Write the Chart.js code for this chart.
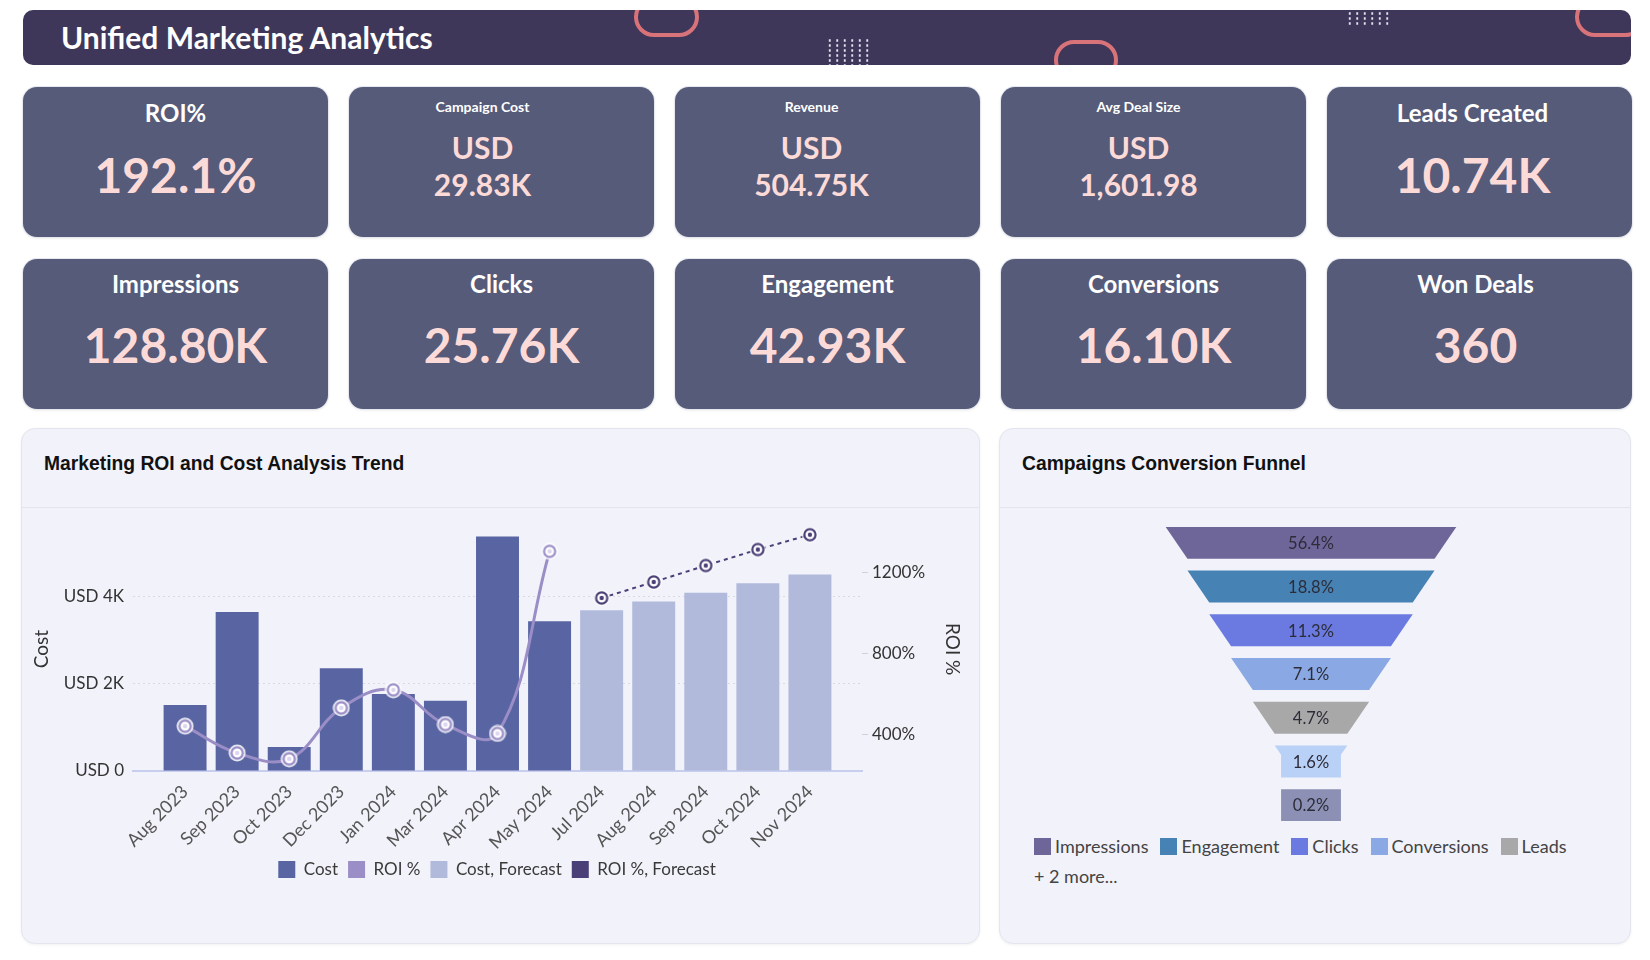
<!DOCTYPE html>
<html>
<head>
<meta charset="utf-8">
<script src="https://cdn.jsdelivr.net/npm/chart.js@4.4.1/dist/chart.umd.min.js"></script>
<style>
  body { margin: 0; width: 1650px; height: 960px; background: #fff; font-family: Lato, sans-serif; position: relative; overflow: hidden; }
  .header { position: absolute; left: 23px; top: 10px; width: 1608px; height: 55px; background: #3e3759; border-radius: 10px; overflow: hidden; }
  .header h1 { position: absolute; left: 38px; top: 0; margin: 0; line-height: 55px; font-size: 30px; font-weight: 700; color: #fff; }
  .pill { position: absolute; border: 4px solid #d8737a; border-radius: 20px; box-sizing: border-box; }
  .dots { position: absolute; background-image: radial-gradient(circle, #e6e4f0 1px, transparent 1.4px); background-size: 7.5px 5px; }
  .card { position: absolute; width: 305px; height: 150px; background: #565b79; border-radius: 14px; box-shadow: 0 0 0 1px #e6e7ef, 0 1px 3px rgba(0,0,0,0.12); color: #fff; text-align: center; }
  .card div { position: absolute; left: 0; right: 0; white-space: nowrap; }
  .t-big { font-size: 24px; font-weight: 700; line-height: 30px; }
  .t-small { font-size: 14px; font-weight: 700; line-height: 20px; }
  .v-big { font-size: 48px; font-weight: 700; line-height: 56px; color: #fcdad8; }
  .v-mid { font-size: 30px; font-weight: 700; line-height: 36px; color: #fcdad8; }
  .panel { position: absolute; top: 428px; height: 516px; background: #f1f2fa; border: 1px solid #e4e6ef; border-radius: 14px; box-sizing: border-box; box-shadow: 0 1px 3px rgba(0,0,0,0.06); }
  .panel h2 { position: absolute; margin: 0; top: 24px; font-family: "Liberation Sans", Arial, sans-serif; font-size: 19.3px; font-weight: 700; color: #111; line-height: 22px; }
  .panel .sep { position: absolute; left: 0; right: 0; top: 78px; height: 1px; background: #e2e4ee; }
  canvas { position: absolute; }
  #funnelLegend { position: absolute; left: 1034px; top: 835px; font-size: 18px; color: #444; }
  #funnelLegend .row { display: flex; align-items: center; height: 22px; }
  #funnelLegend .item { display: flex; align-items: center; margin-right: 12px; }
  #funnelLegend .box { width: 17px; height: 17px; margin-right: 4px; }
  #funnelLegend .more { margin-top: 8px; }
</style>
</head>
<body>
<div class="header">
  <h1>Unified Marketing Analytics</h1>
  <div class="pill" style="left:611px;top:-13px;width:65px;height:40px"></div>
  <div class="pill" style="left:1031px;top:30px;width:64px;height:40px"></div>
  <div class="pill" style="left:1552px;top:-13px;width:70px;height:40px"></div>
  <div class="dots" style="left:803px;top:28px;width:46px;height:30px"></div>
  <div class="dots" style="left:1323px;top:1px;width:45px;height:16px"></div>
</div>

<div class="card" style="left:23px;top:87px"><div class="t-big" style="top:11px">ROI%</div><div class="v-big" style="top:60px">192.1%</div></div>
<div class="card" style="left:349px;top:87px"><div class="t-small" style="top:10px;right:38px">Campaign Cost</div><div class="v-mid" style="top:42px;right:38px">USD</div><div class="v-mid" style="top:79px;right:38px">29.83K</div></div>
<div class="card" style="left:675px;top:87px"><div class="t-small" style="top:10px;right:32px">Revenue</div><div class="v-mid" style="top:42px;right:32px">USD</div><div class="v-mid" style="top:79px;right:32px">504.75K</div></div>
<div class="card" style="left:1001px;top:87px"><div class="t-small" style="top:10px;right:30px">Avg Deal Size</div><div class="v-mid" style="top:42px;right:30px">USD</div><div class="v-mid" style="top:79px;right:30px">1,601.98</div></div>
<div class="card" style="left:1327px;top:87px"><div class="t-big" style="top:11px;right:14px">Leads Created</div><div class="v-big" style="top:60px;right:14px">10.74K</div></div>

<div class="card" style="left:23px;top:259px"><div class="t-big" style="top:10px">Impressions</div><div class="v-big" style="top:58px">128.80K</div></div>
<div class="card" style="left:349px;top:259px"><div class="t-big" style="top:10px">Clicks</div><div class="v-big" style="top:58px">25.76K</div></div>
<div class="card" style="left:675px;top:259px"><div class="t-big" style="top:10px">Engagement</div><div class="v-big" style="top:58px">42.93K</div></div>
<div class="card" style="left:1001px;top:259px"><div class="t-big" style="top:10px">Conversions</div><div class="v-big" style="top:58px">16.10K</div></div>
<div class="card" style="left:1327px;top:259px"><div class="t-big" style="top:10px;right:8px">Won Deals</div><div class="v-big" style="top:58px;right:8px">360</div></div>

<div class="panel" style="left:21px;width:959px"><h2 style="left:22px">Marketing ROI and Cost Analysis Trend</h2><div class="sep"></div></div>
<div class="panel" style="left:999px;width:632px"><h2 style="left:22px">Campaigns Conversion Funnel</h2><div class="sep"></div></div>

<canvas id="trend" width="959" height="436" style="left:21px;top:508px"></canvas>
<canvas id="funnel" width="622" height="306" style="left:1000px;top:521px"></canvas>
<div id="funnelLegend"></div>

<script>
// trend data
const months = ['Aug 2023', 'Sep 2023', 'Oct 2023', 'Dec 2023', 'Jan 2024', 'Mar 2024', 'Apr 2024', 'May 2024',
                'Jul 2024', 'Aug 2024', 'Sep 2024', 'Oct 2024', 'Nov 2024'];
const cost = [1510, 3640, 550, 2350, 1760, 1610, 5370, 3430, null, null, null, null, null];
const costForecast = [null, null, null, null, null, null, null, null, 3680, 3880, 4080, 4300, 4500];
const roi = [441, 309, 280, 531, 620, 449, 405, 1303, null, null, null, null, null];
const roiForecast = [null, null, null, null, null, null, null, null, 1073, 1152, 1233, 1312, 1385];
const costTicks = [0, 2000, 4000];
const roiTicks = [400, 800, 1200];

// funnel data
const stages = ['Impressions', 'Engagement', 'Clicks', 'Conversions', 'Leads', 'Deals', 'Won Deals'];
const stageShare = [56.4, 18.8, 11.3, 7.1, 4.7, 1.6, 0.2];

const legendColors = ['#5965a3', '#9b8ec7', '#b1badb', '#4b3f77'];
const stageColors = ['#6e6699', '#4682b4', '#6b7ae0', '#8aa8e3', '#a8a8a8', '#b9d0f7', '#8d90b5'];

Chart.defaults.font.family = 'Lato, sans-serif';

function marker(ring, dot, halo) {
  const c = document.createElement('canvas');
  c.width = c.height = 18;
  const g = c.getContext('2d');
  g.beginPath(); g.arc(9, 9, 8.5, 0, Math.PI * 2); g.fillStyle = halo; g.fill();
  g.beginPath(); g.arc(9, 9, 5.6, 0, Math.PI * 2); g.fillStyle = '#fff'; g.fill();
  g.lineWidth = 2.2; g.strokeStyle = ring; g.stroke();
  g.beginPath(); g.arc(9, 9, 2.2, 0, Math.PI * 2); g.fillStyle = dot; g.fill();
  return c;
}

// x is a linear index axis so the months sit one slot in from each end
const asPoints = arr => arr.map((v, i) => ({ x: i, y: v }));

new Chart(document.getElementById('trend'), {
  data: {
    datasets: [
      { type: 'bar', label: 'Cost', data: asPoints(cost), backgroundColor: '#5965a3', yAxisID: 'y', order: 2,
        grouped: false, barPercentage: 0.825, categoryPercentage: 1 },
      { type: 'line', label: 'ROI %', data: asPoints(roi), yAxisID: 'y1', order: 0, borderColor: '#9b8ec7',
        backgroundColor: '#9b8ec7', borderWidth: 3, tension: 0.4,
        pointStyle: marker('#9b8ec7', '#ddd6f0', 'rgba(255,255,255,0.85)') },
      { type: 'bar', label: 'Cost, Forecast', data: asPoints(costForecast), backgroundColor: '#b1badb', yAxisID: 'y', order: 2,
        grouped: false, barPercentage: 0.825, categoryPercentage: 1 },
      { type: 'line', label: 'ROI %, Forecast', data: asPoints(roiForecast), yAxisID: 'y1', order: 0, borderColor: '#4b3f77',
        backgroundColor: '#4b3f77', borderWidth: 2, borderDash: [4, 4],
        pointStyle: marker('#4b3f77', '#4b3f77', 'rgba(255,255,255,0.6)') }
    ]
  },
  options: {
    responsive: false,
    animation: false,
    layout: { padding: { left: 5, right: 12, top: 12, bottom: 56 } },
    plugins: {
      tooltip: { enabled: false },
      legend: {
        position: 'bottom',
        labels: {
          boxWidth: 17, boxHeight: 17, padding: 10, color: '#3a3a3a', font: { size: 17 },
          sort: (a, b) => a.datasetIndex - b.datasetIndex,
          generateLabels(chart) {
            const items = Chart.defaults.plugins.legend.labels.generateLabels(chart);
            items.forEach(it => {
              it.fillStyle = legendColors[it.datasetIndex];
              it.strokeStyle = legendColors[it.datasetIndex];
              it.lineWidth = 0;
              it.lineDash = [];
            });
            return items;
          }
        }
      }
    },
    scales: {
      x: {
        type: 'linear', min: -1, max: 13, offset: false,
        afterBuildTicks(s) { s.ticks = months.map((m, i) => ({ value: i })); },
        grid: { display: false },
        border: { color: '#c8cfee', width: 2 },
        ticks: { autoSkip: false, maxRotation: 45, minRotation: 45, color: '#555', font: { size: 18 }, padding: 2,
          callback: v => months[v] },
        afterFit(s) { s.height = 80; }
      },
      y: {
        position: 'left', min: 0, max: 5580,
        afterBuildTicks(s) { s.ticks = costTicks.map(v => ({ value: v })); },
        ticks: { color: '#333', font: { size: 17 }, padding: 9,
          callback: v => v === 0 ? 'USD 0' : 'USD ' + v / 1000 + 'K' },
        grid: { color: '#d9d9e0', drawTicks: false },
        border: { display: false, dash: [2, 3] },
        title: { display: true, text: 'Cost', color: '#333', font: { size: 19 } },
        afterFit(s) { s.width = 107; }
      },
      y1: {
        position: 'right', min: 220, max: 1422,
        afterBuildTicks(s) { s.ticks = roiTicks.map(v => ({ value: v })); },
        ticks: { color: '#333', font: { size: 17 }, padding: 4, callback: v => v + '%' },
        grid: { drawOnChartArea: false, color: '#d0d0d8', tickLength: 6 },
        border: { display: false },
        title: { display: true, text: 'ROI %', color: '#333', font: { size: 19 } },
        afterFit(s) { s.width = 106; }
      }
    }
  }
});

// funnel shape: widths step down by rank, clamped at a neck width
const FUNNEL_TOP = 100, FUNNEL_STEP = 15, FUNNEL_NECK = 20.6;
const funnelWidth = i => FUNNEL_TOP - FUNNEL_STEP * i;

const funnelPlugin = {
  id: 'funnelShape',
  beforeDatasetDraw(chart, args) {
    const ctx = chart.ctx, xs = chart.scales.x;
    const cx = xs.getPixelForValue(0);
    const neck = xs.getPixelForValue(FUNNEL_NECK / 2) - cx;
    args.meta.data.forEach((bar, i) => {
      const top = bar.y - bar.height / 2, bot = bar.y + bar.height / 2;
      const wTop = Math.abs(bar.x - bar.base) / 2;
      const wNext = xs.getPixelForValue(funnelWidth(i + 1) / 2) - cx;
      ctx.beginPath();
      ctx.moveTo(cx - wTop, top);
      ctx.lineTo(cx + wTop, top);
      if (wNext >= neck) {
        ctx.lineTo(cx + wNext, bot);
        ctx.lineTo(cx - wNext, bot);
      } else {
        const f = wTop > neck ? (wTop - neck) / (wTop - wNext) : 0;
        const yk = top + f * (bot - top);
        ctx.lineTo(cx + neck, yk);
        ctx.lineTo(cx + neck, bot);
        ctx.lineTo(cx - neck, bot);
        ctx.lineTo(cx - neck, yk);
      }
      ctx.closePath();
      ctx.fillStyle = stageColors[i];
      ctx.fill();
      ctx.fillStyle = '#2c2c38';
      ctx.font = '16.5px Lato, sans-serif';
      ctx.textAlign = 'center';
      ctx.textBaseline = 'middle';
      ctx.fillText(stageShare[i].toFixed(1) + '%', cx, bar.y + 1);
    });
    return false;
  }
};

new Chart(document.getElementById('funnel'), {
  type: 'bar',
  data: {
    labels: stages,
    datasets: [{
      label: 'Share',
      data: stageShare.map((v, i) => {
        const w = Math.max(FUNNEL_NECK, funnelWidth(i));
        return [-w / 2, w / 2];
      }),
      backgroundColor: stageColors,
      barPercentage: 0.73,
      categoryPercentage: 1
    }]
  },
  options: {
    indexAxis: 'y',
    responsive: false,
    animation: false,
    layout: { padding: 0 },
    plugins: { legend: { display: false }, tooltip: { enabled: false } },
    scales: {
      x: { display: false, min: -107, max: 107 },
      y: { display: false }
    }
  },
  plugins: [funnelPlugin]
});

// funnel legend
const lg = document.getElementById('funnelLegend');
const row = document.createElement('div');
row.className = 'row';
stages.slice(0, 5).forEach((s, i) => {
  const it = document.createElement('div');
  it.className = 'item';
  it.innerHTML = '<span class="box" style="background:' + stageColors[i] + '"></span>' + s;
  row.appendChild(it);
});
lg.appendChild(row);
const more = document.createElement('div');
more.className = 'more';
more.textContent = '+ ' + (stages.length - 5) + ' more...';
lg.appendChild(more);
</script>
</body>
</html>
